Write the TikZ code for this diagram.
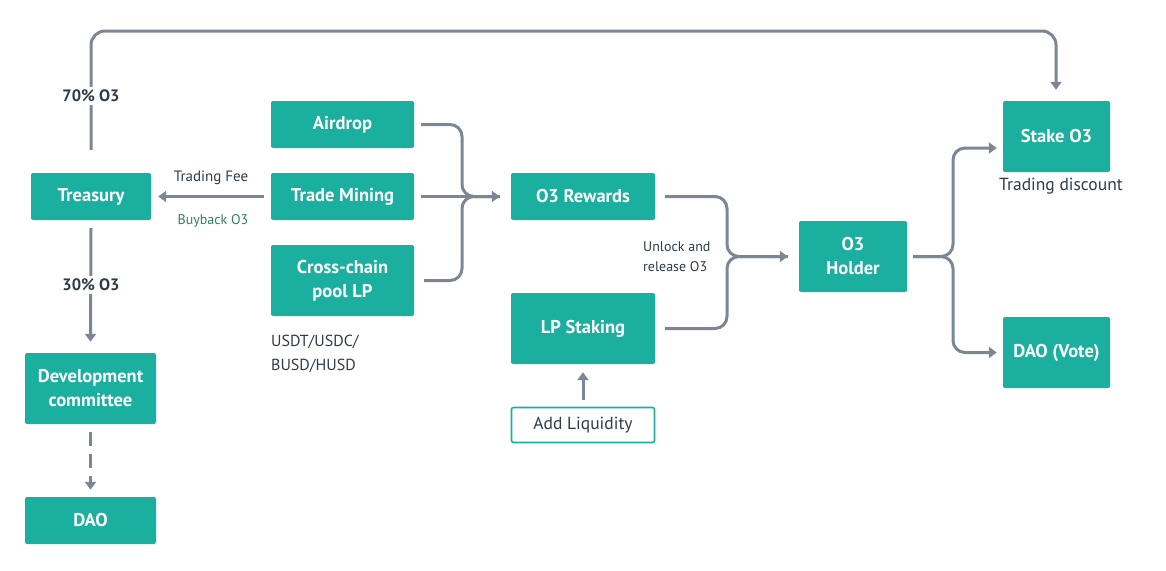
\documentclass[tikz,border=0pt]{standalone}
\usepackage{fontspec}
\setmainfont{PT Sans}
\usetikzlibrary{arrows.meta,calc}
\definecolor{teal}{HTML}{1BAF9F}
\definecolor{lgray}{HTML}{7B8794}
\definecolor{dtext}{HTML}{2D3B4A}
\definecolor{bgreen}{HTML}{2F7F6E}
\tikzset{
  box/.style={draw=none,fill=teal,rounded corners=2pt,text=white,font=\fontsize{18.5}{24}\selectfont\bfseries,align=center,inner sep=0pt},
  obox/.style={draw=teal,line width=1.6pt,fill=white,rounded corners=2pt,text=dtext,font=\fontsize{17.5}{24}\selectfont,align=center,inner sep=0pt},
  conn/.style={draw=lgray,line width=3pt,rounded corners=12pt},
  arr/.style={conn,-{Triangle[width=11pt,length=8pt]}},
  lbl/.style={text=dtext,font=\fontsize{15}{24}\selectfont,inner sep=0pt},
  blbl/.style={text=dtext,font=\fontsize{16.5}{24}\selectfont\bfseries,fill=white,inner sep=3pt},
}
\begin{document}
\begin{tikzpicture}[x=1pt,y=-1pt]
\useasboundingbox (0,0) rectangle (1166,570);
% boxes
\node[box,minimum width=120pt,minimum height=47pt] (treasury) at (91,196.5) {Treasury};
\node[box,minimum width=143pt,minimum height=47pt] (airdrop) at (342.5,124.5) {Airdrop};
\node[box,minimum width=143pt,minimum height=47pt] (trade) at (342.5,196.5) {Trade Mining};
\node[box,minimum width=143pt,minimum height=71pt] (cross) at (342.5,280.5) {Cross-chain\\pool LP};
\node[box,minimum width=144pt,minimum height=47pt] (rewards) at (583,196.5) {O3 Rewards};
\node[box,minimum width=144pt,minimum height=71pt] (lp) at (583,328.5) {LP Staking};
\node[obox,minimum width=143pt,minimum height=35pt] (addliq) at (583,425) {Add Liquidity};
\node[box,minimum width=108pt,minimum height=71pt] (holder) at (853,256.5) {O3\\Holder};
\node[box,minimum width=107pt,minimum height=71pt] (stake) at (1056.5,136.5) {Stake O3};
\node[box,minimum width=107pt,minimum height=71pt] (daovote) at (1056.5,352.5) {DAO (Vote)};
\node[box,minimum width=131pt,minimum height=71pt] (devc) at (90.5,388.5) {Development\\committee};
\node[box,minimum width=131pt,minimum height=47pt] (dao) at (90.5,520.5) {DAO};
% texts
\node[lbl,font=\fontsize{17.5}{24}\selectfont] (tdisc) at (1061,186) {Trading discount};
\node[lbl,align=left,anchor=west,font=\fontsize{16}{24}\selectfont] (usdt) at (271,354) {USDT/USDC/\\BUSD/HUSD};
\node[lbl,align=left,anchor=west,font=\fontsize{14}{20}\selectfont] (unlock) at (643,257) {Unlock and\\release O3};
\node[lbl] (tfee) at (211,178) {Trading Fee};
\node[lbl,text=bgreen,font=\fontsize{14}{20}\selectfont] (buyback) at (213,221) {Buyback O3};
% coordinates
\coordinate (topL) at (91,31);
\coordinate (topR) at (1056,31);
\coordinate (m1) at (462,196.5);
\coordinate (m2) at (727,256.5);
\coordinate (m3) at (953,256.5);
% top loop
\draw[arr,rounded corners=14pt] ([yshift=23pt]treasury.north) -- (topL) -- (topR) -- ([xshift=-0.5pt,yshift=11pt]stake.north);
\node[blbl] (p70) at (91,96) {70\% O3};
% treasury down
\draw[arr] ([yshift=-8pt]treasury.south) -- ([yshift=11pt]devc.north);
\node[blbl] (p30) at (91,285) {30\% O3};
% dashed
\draw[arr,dash pattern=on 14pt off 8pt] ([yshift=-8pt]devc.south) -- ([yshift=7pt]dao.north);
% trade mining to treasury
\draw[arr] ([xshift=-7pt]trade.west) -- ([xshift=7pt]treasury.east);
% to rewards
\draw[conn] ([xshift=7pt]airdrop.east) -| (m1) -- ([xshift=-11pt]rewards.west);
\draw[conn] ([xshift=10pt]cross.east) -| (m1) -- ([xshift=-11pt]rewards.west);
\draw[arr] ([xshift=7pt]trade.east) -- ([xshift=-11pt]rewards.west);
% to holder
\draw[conn] ([xshift=10pt]rewards.east) -| (m2) -- ([xshift=-11pt]holder.west);
\draw[arr] ([xshift=10pt]lp.east) -| (m2) -- ([xshift=-11pt]holder.west);
% from holder
\draw[arr] ([xshift=6pt]holder.east) -- (m3) |- ([xshift=-6pt,yshift=-11.5pt]stake.west);
\draw[arr] ([xshift=6pt]holder.east) -- (m3) |- ([xshift=-6pt]daovote.west);
% add liquidity
\draw[arr] ([yshift=7pt]addliq.north) -- ([yshift=-8pt]lp.south);
\end{tikzpicture}
\end{document}
